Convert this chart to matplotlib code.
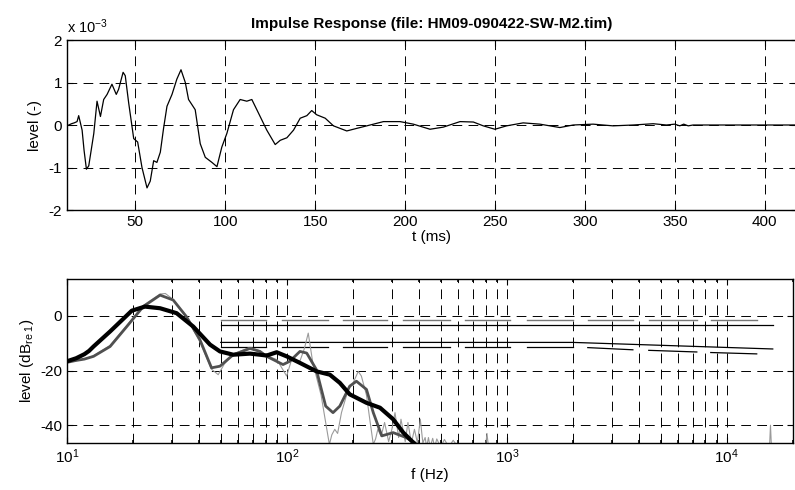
import matplotlib
matplotlib.use('Agg')
import matplotlib.pyplot as plt
from matplotlib.ticker import LogLocator, NullFormatter

plt.rcParams['font.family'] = ['Liberation Sans', 'DejaVu Sans']
plt.rcParams['mathtext.fontset'] = 'custom'
plt.rcParams['mathtext.rm'] = 'Liberation Sans'
plt.rcParams['mathtext.it'] = 'Liberation Sans:italic'
plt.rcParams['mathtext.bf'] = 'Liberation Sans:bold'
plt.rcParams['axes.unicode_minus'] = False

TITLE = 'Impulse Response (file: HM09-090422-SW-M2.tim)'

# impulse response: time (ms) and level (x 1e-3)
ir_t = [12.0, 14.5, 16.0, 17.6, 18.5, 20.4, 21.5, 22.8, 24.1, 26.9, 28.7, 30.6, 32.4, 34.3, 37.0,
        39.4, 40.7, 43.2, 44.4, 46.3, 49.1, 51.3, 53.7, 56.5, 58.3, 60.2, 62.0,
        63.9, 65.7, 67.6, 70.4, 73.1, 75.4, 77.8, 79.6, 83.3, 86.1, 88.9, 92.6,
        95.4, 98.1, 100.9, 104.6, 108.3, 112.0, 114.8, 118.5, 123.1, 127.8,
        130.6, 134.3, 138.0, 141.7, 145.4, 148.1, 150.9, 155.6, 160.2, 167.6,
        173.1, 180.6, 188.0, 197.2, 204.6, 213.9, 221.3, 230.6, 238.0, 243.5,
        250.0, 256.5, 265.7, 275.0, 286.1, 293.5, 304.6, 315.7, 326.9, 338.0,
        345.4, 350.0, 352.8, 355.0, 357.5, 360.2, 417.5]
ir_level = [-0.02, 0.03, 0.05, 0.08, 0.22, -0.12, -0.6, -1.04, -0.96, -0.2, 0.56, 0.2, 0.6, 0.72, 0.96,
            0.72, 0.84, 1.24, 1.16, 0.52, -0.32, -0.4, -1.0, -1.48, -1.32, -0.84, -0.88,
            -0.64, -0.08, 0.44, 0.72, 1.08, 1.3, 1.0, 0.6, 0.36, -0.44, -0.76, -0.88,
            -0.98, -0.52, -0.2, 0.36, 0.6, 0.56, 0.6, 0.28, -0.12, -0.46,
            -0.36, -0.3, -0.12, 0.16, 0.22, 0.34, 0.24, 0.16, -0.02, -0.14,
            -0.08, 0.0, 0.08, 0.08, 0.02, -0.1, -0.05, 0.08, 0.07, -0.02,
            -0.1, -0.02, 0.05, 0.02, -0.06, 0.0, 0.02, -0.02, 0.0, 0.03,
            0.0, 0.02, -0.02, 0.02, -0.02, 0.0, 0.0]

# spectra: raw (light gray), smoothed (dark gray), heavily smoothed (black)
raw_f = [10, 11, 12, 13.2, 15.7, 18.7, 22.2, 26.5, 28, 30.4, 34.9, 40.2, 45.4, 48.7,
         52, 57, 67.9, 75.4, 80.9, 90, 99.7, 105, 114.6, 120, 125, 131, 143, 153.6,
         156, 160, 165, 170, 177, 190, 200, 211, 218, 230, 238, 247, 253, 259, 268,
         278, 290, 300, 310, 322, 330, 345, 355, 368, 380, 392, 404, 415, 425, 432,
         440, 448, 460, 470, 480, 500, 520, 545, 570, 600, 800, 812, 825, 1000,
         15500, 15800, 16100, 20000]
raw_db = [-17, -16.4, -15.8, -14.6, -10.8, -3.5, 3.8, 8.0, 8.2, 6.0, -0.5, -9.5, -19.5, -21.5,
          -17.5, -14.0, -11.5, -12.8, -14.5, -16.0, -22.0, -16.0, -16.5, -12.0, -6.3, -17.0, -29.0, -43.9,
          -47, -43.5, -41.5, -43.0, -35.4, -26.9, -24.5, -20.3, -22.0, -29.0, -37.8, -47, -45, -41.5, -44.0,
          -39.0, -46.0, -41.5, -35.4, -44.5, -37.8, -46.0, -39.0, -46.5, -41.5, -46.5, -37.8, -46.5, -44.5, -48,
          -44.5, -48, -44.8, -48, -45.0, -48, -45.2, -48, -45.5, -48, -48, -43.0, -48, -55,
          -55, -40.0, -55, -55]

smooth_f = [10, 11, 12, 13.2, 15.7, 18.7, 22.2, 26.5, 30.4, 34.9, 40.2, 45.4, 49.6,
            57, 67.9, 75.4, 80.9, 96, 103, 114.6, 123, 136, 150, 162, 174, 193, 207,
            230, 247, 270, 304, 348, 380, 420, 500]
smooth_db = [-17, -16.3, -15.8, -14.8, -11.2, -3.9, 3.4, 7.6, 5.8, -0.25, -8.7, -19.0, -18.4,
             -14.2, -11.9, -13.0, -14.8, -17.8, -16.6, -13.0, -13.6, -19.6, -33.0, -35.4, -33.0, -25.7, -23.9,
             -26.9, -35.4, -43.9, -42.7, -44.5, -46.3, -50, -60]

oct_f = [10, 11, 12, 12.6, 13.2, 15.7, 19.7, 22.6, 26.5, 31.5, 37.5, 44.7, 49.6, 57,
         67.9, 75.4, 80.9, 89.8, 99.7, 114.6, 136.4, 156.7, 174, 193, 230, 265, 304,
         338, 375, 420, 500]
oct_db = [-16.6, -15.5, -14.0, -12.8, -11.2, -5.7, 1.9, 3.4, 2.8, 1.0, -3.9, -10.5, -13.0, -14.2,
          -13.8, -14.2, -14.5, -13.3, -14.8, -17.2, -20.3, -21.5, -24.5, -28.7, -31.8, -33.6, -37.8,
          -42.7, -46.3, -50, -60]

# band marker lines (Hz, dB)
band_lo = [50, 95, 180, 336, 644, 1231, 2333, 4418, 8455]
band_hi = [80, 153, 285, 551, 1032, 2000, 3741, 7305, 13680]
band_top_db = [-1.5] * 9
band_bot_start = [-11.3, -11.3, -11.3, -11.3, -11.3, -11.3, -11.6, -12.6, -13.4]
band_bot_end = [-11.3, -11.3, -11.3, -11.3, -11.3, -11.3, -12.4, -13.2, -13.9]
full1_f = [50, 16180]
full1_db = [-3.5, -3.5]
full2_f = [50, 2000, 16180]
full2_db = [-9.7, -9.7, -12.1]

W, H = 795, 490
fig = plt.figure(figsize=(W / 100., H / 100.), dpi=100)
dash = (0, (10, 6.5))


def style(ax):
    ax.tick_params(direction='in', top=True, right=True, labelsize=11, length=4, width=0.8)
    ax.tick_params(which='minor', direction='in', top=True, right=True, length=2.5, width=1.2)
    for s in ax.spines.values():
        s.set_linewidth(1.0)
    ax.set_axisbelow(True)


# top: impulse response
ax1 = fig.add_axes([67 / W, 1 - 210 / H, 730 / W, 170 / H])
ax1.plot(ir_t, ir_level, color='k', lw=0.9)
ax1.set_xlim(12, 418)
ax1.set_ylim(-2, 2)
ax1.set_xticks(range(50, 401, 50))
ax1.set_yticks([-2, -1, 0, 1, 2])
ax1.grid(True, ls=dash, color='k', lw=0.7)
style(ax1)
ax1.set_xlabel('t (ms)', fontsize=11, labelpad=1)
ax1.set_ylabel('level (-)', fontsize=11, labelpad=5)
ax1.set_title(TITLE, fontsize=11, fontweight='bold', pad=9)
ax1.text(0.0, 1.025, 'x 10$^{-3}$', transform=ax1.transAxes, fontsize=10.5, ha='left', va='bottom')

# bottom: spectra
ax2 = fig.add_axes([67 / W, 1 - 443 / H, 726 / W, 164 / H])
ax2.set_xscale('log')
for lo, hi, top in zip(band_lo, band_hi, band_top_db):
    ax2.plot([lo, hi], [top, top], color='#777777', lw=1.0)
for lo, hi, a, b in zip(band_lo, band_hi, band_bot_start, band_bot_end):
    ax2.plot([lo, hi], [a, b], color='k', lw=0.9)
ax2.plot(full1_f, full1_db, color='k', lw=0.9)
ax2.plot(full2_f, full2_db, color='k', lw=0.9)
ax2.plot(raw_f, raw_db, color='#9a9a9a', lw=0.8)
ax2.plot(smooth_f, smooth_db, color='#505050', lw=2.0)
ax2.plot(oct_f, oct_db, color='k', lw=3.0)
ax2.set_xlim(10, 20000)
ax2.set_ylim(-46.5, 13.5)
ax2.set_yticks([-40, -20, 0])
ax2.xaxis.set_major_locator(LogLocator(base=10))
ax2.xaxis.set_minor_locator(LogLocator(base=10, subs=range(2, 10)))
ax2.xaxis.set_minor_formatter(NullFormatter())
ax2.xaxis.grid(True, which='both', ls=dash, color='k', lw=0.7)
ax2.yaxis.grid(True, which='major', ls=dash, color='k', lw=0.7)
style(ax2)
ax2.set_xlabel('f (Hz)', fontsize=11, labelpad=1)
ax2.set_ylabel('level (dB$_{\\rm re\\ 1}$)', fontsize=11, labelpad=3)

plt.savefig('out.png', dpi=100)
